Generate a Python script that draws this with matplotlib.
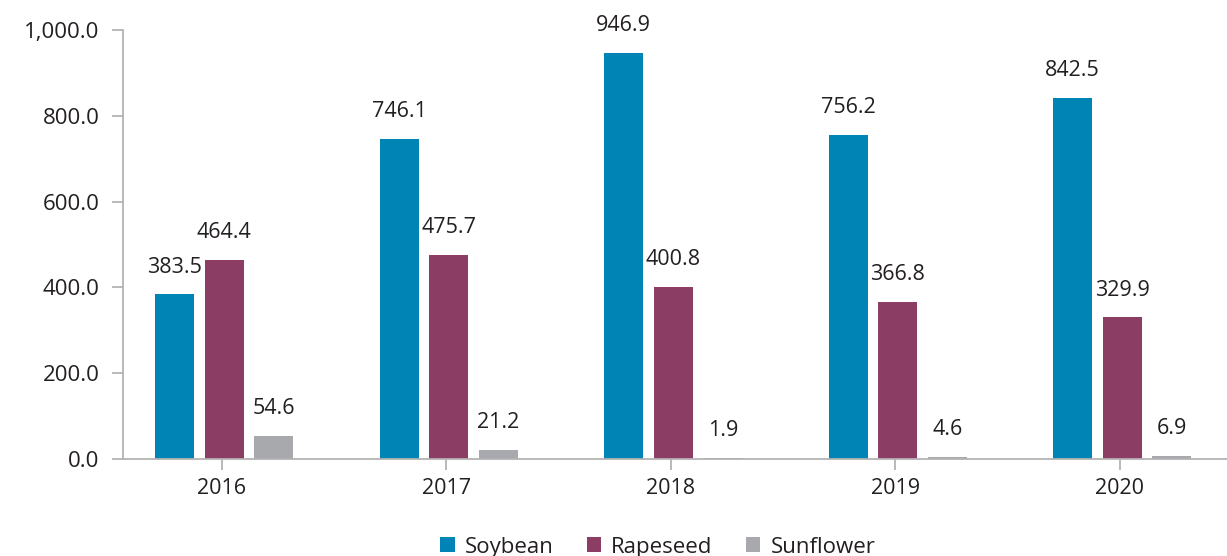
import numpy as np
import matplotlib.pyplot as plt

plt.rcParams['font.family'] = ['Open Sans', 'DejaVu Sans']

years = ["2016", "2017", "2018", "2019", "2020"]
series = ["Soybean", "Rapeseed", "Sunflower"]
soybean = [383.5, 746.1, 946.9, 756.2, 842.5]
rapeseed = [464.4, 475.7, 400.8, 366.8, 329.9]
sunflower = [54.6, 21.2, 1.9, 4.6, 6.9]
colors = ["#0083B5", "#8B3D63", "#A8A9AD"]

fig = plt.figure(figsize=(12.27, 5.56), dpi=100)
ax = fig.add_axes([0.1002, 0.1745, 0.8998, 0.7715])

x = np.arange(len(years))
width = 0.174
step = 0.221
txt = "#231F20"
axis_col = "#B3B3B3"

for i, (name, vals) in enumerate(zip(series, [soybean, rapeseed, sunflower])):
    pos = x + (i - 1) * step + 0.01
    bars = ax.bar(pos, vals, width, color=colors[i], label=name)
    for b, v in zip(bars, vals):
        ax.annotate(f"{v:.1f}", (b.get_x() + b.get_width() / 2, v),
                    xytext=(0, 12), textcoords="offset points",
                    ha="center", va="bottom", fontsize=15.5, color=txt)

ax.set_xlim(-0.441, 4.477)
ax.set_ylim(0, 1000)
ax.set_yticks(np.arange(0, 1001, 200))
ax.set_yticklabels([f"{v:,.1f}" for v in np.arange(0, 1001, 200)])
ax.set_xticks(x)
ax.set_xticklabels(years)

for s in ["top", "right"]:
    ax.spines[s].set_visible(False)
for s in ["left", "bottom"]:
    ax.spines[s].set_color(axis_col)
    ax.spines[s].set_linewidth(1.3)

ax.tick_params(axis="y", length=8, width=1.3, color=axis_col, labelsize=16, labelcolor=txt, pad=9)
ax.tick_params(axis="x", length=8, width=1.3, color=axis_col, labelsize=15.5, labelcolor=txt, pad=6)

fig.legend(loc="center", bbox_to_anchor=(0.536, 0.016), ncol=3, frameon=False,
           fontsize=16, handlelength=0.65, handleheight=0.65, handletextpad=0.45,
           columnspacing=1.5, labelcolor=txt)

fig.savefig("out.png", dpi=100)
